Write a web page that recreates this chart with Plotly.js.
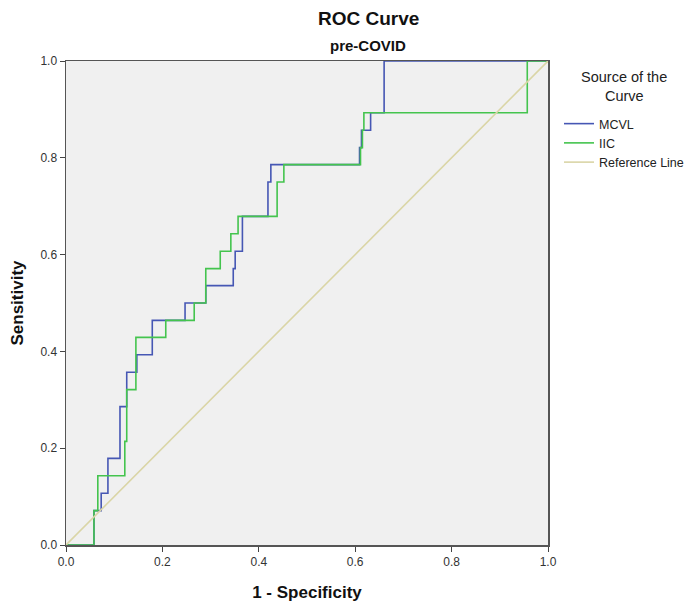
<!DOCTYPE html>
<html>
<head>
<meta charset="utf-8">
<script src="https://cdn.plot.ly/plotly-3.0.1.min.js"></script>
<style>html,body{margin:0;padding:0;background:#fff;}#chart{width:700px;height:615px;}</style>
</head>
<body>
<div id="chart"></div>
<script>
// MCVL ROC curve (1 - specificity, sensitivity)
const mcvlX = [0, 0.058, 0.058, 0.073, 0.073, 0.087, 0.087, 0.112, 0.112, 0.126, 0.126, 0.147, 0.147, 0.179, 0.179, 0.247, 0.247, 0.290, 0.290, 0.347, 0.347, 0.351, 0.351, 0.366, 0.366, 0.419, 0.419, 0.425, 0.425, 0.609, 0.609, 0.613, 0.613, 0.632, 0.632, 0.660, 0.660, 1.0];
const mcvlY = [0, 0, 0.071, 0.071, 0.107, 0.107, 0.179, 0.179, 0.286, 0.286, 0.357, 0.357, 0.393, 0.393, 0.464, 0.464, 0.500, 0.500, 0.536, 0.536, 0.571, 0.571, 0.607, 0.607, 0.679, 0.679, 0.750, 0.750, 0.786, 0.786, 0.821, 0.821, 0.857, 0.857, 0.893, 0.893, 1.0, 1.0];
// IIC ROC curve
const iicX = [0, 0.058, 0.058, 0.066, 0.066, 0.122, 0.122, 0.126, 0.126, 0.145, 0.145, 0.207, 0.207, 0.266, 0.266, 0.290, 0.290, 0.320, 0.320, 0.342, 0.342, 0.357, 0.357, 0.438, 0.438, 0.452, 0.452, 0.611, 0.611, 0.615, 0.615, 0.618, 0.618, 0.957, 0.957, 1.0];
const iicY = [0, 0, 0.071, 0.071, 0.143, 0.143, 0.214, 0.214, 0.321, 0.321, 0.429, 0.429, 0.464, 0.464, 0.500, 0.500, 0.571, 0.571, 0.607, 0.607, 0.643, 0.643, 0.679, 0.679, 0.750, 0.750, 0.786, 0.786, 0.821, 0.821, 0.857, 0.857, 0.893, 0.893, 1.0, 1.0];
// Reference line
const refX = [0, 1];
const refY = [0, 1];
const tickVals = [0, 0.2, 0.4, 0.6, 0.8, 1.0];
const tickText = ["0.0", "0.2", "0.4", "0.6", "0.8", "1.0"];
const legendTitleLines = ["Source of the", "Curve"];

const FONT = "Liberation Sans, Arial, sans-serif";
const PL = 66, PW = 482, PT = 61, PH = 484;
const px = v => (v - PL) / PW;          // paper x from pixel
const py = v => 1 - (v - PT) / PH;      // paper y from pixel

const traces = [
  {x: mcvlX, y: mcvlY, mode: "lines", name: "MCVL", line: {color: "#4657b4", width: 1.6}},
  {x: iicX, y: iicY, mode: "lines", name: "IIC", line: {color: "#44c44e", width: 1.6}},
  {x: refX, y: refY, mode: "lines", name: "Reference Line", line: {color: "#dad5a6", width: 1.6}}
];

const layout = {
  width: 700, height: 615,
  margin: {l: 66, r: 152, t: 61, b: 70, autoexpand: false},
  paper_bgcolor: "#ffffff",
  plot_bgcolor: "#f0f0f0",
  font: {family: FONT, color: "#222", size: 12},
  showlegend: true,
  legend: {
    x: px(559), xanchor: "left", y: py(109), yanchor: "top",
    bgcolor: "rgba(0,0,0,0)",
    font: {family: FONT, size: 12.5, color: "#222"},
    itemwidth: 30,
    tracegroupgap: 0
  },
  xaxis: {
    range: [0, 1], tickvals: tickVals, ticktext: tickText,
    ticks: "outside", ticklen: 5, tickcolor: "#444", tickwidth: 1,
    showgrid: false, zeroline: false,
    showline: true, linecolor: "#555", linewidth: 1.5, mirror: true,
    tickfont: {family: FONT, size: 12, color: "#333"},
    title: {text: "<b>1 - Specificity</b>", font: {family: FONT, size: 17, color: "#111"}, standoff: 18}
  },
  yaxis: {
    range: [0, 1], tickvals: tickVals, ticktext: tickText,
    ticks: "outside", ticklen: 5, tickcolor: "#444", tickwidth: 1,
    showgrid: false, zeroline: false,
    showline: true, linecolor: "#555", linewidth: 1.5, mirror: true,
    tickfont: {family: FONT, size: 12, color: "#333"},
    title: {text: "<b>Sensitivity</b>", font: {family: FONT, size: 17, color: "#111"}, standoff: 12}
  },
  annotations: [
    {text: "<b>ROC Curve</b>", xref: "paper", yref: "paper", x: px(368), y: py(18), showarrow: false, font: {family: FONT, size: 19, color: "#111"}, xanchor: "center", yanchor: "middle"},
    {text: "<b>pre-COVID</b>", xref: "paper", yref: "paper", x: px(368), y: py(45), showarrow: false, font: {family: FONT, size: 15, color: "#111"}, xanchor: "center", yanchor: "middle"},
    {text: legendTitleLines[0], xref: "paper", yref: "paper", x: px(624), y: py(77), showarrow: false, font: {family: FONT, size: 14.5, color: "#222"}, xanchor: "center", yanchor: "middle"},
    {text: legendTitleLines[1], xref: "paper", yref: "paper", x: px(624), y: py(96), showarrow: false, font: {family: FONT, size: 14.5, color: "#222"}, xanchor: "center", yanchor: "middle"}
  ]
};

Plotly.newPlot("chart", traces, layout, {displayModeBar: false, staticPlot: true});
</script>
</body>
</html>
